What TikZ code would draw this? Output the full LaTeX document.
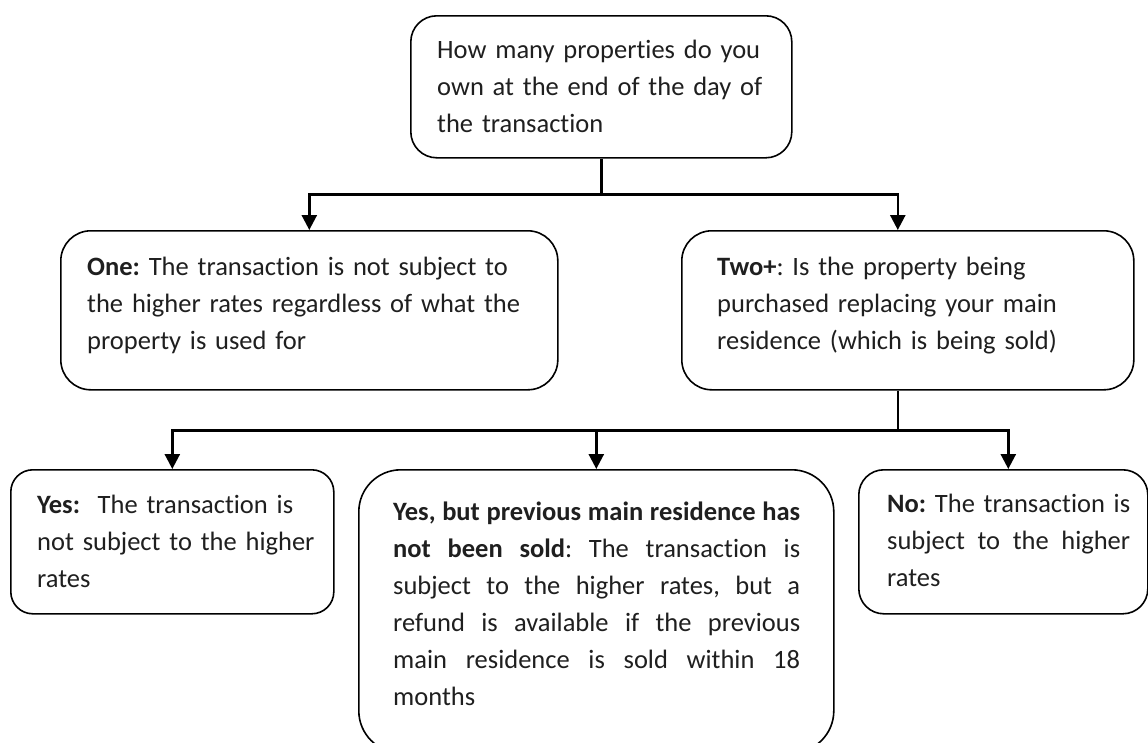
\documentclass[tikz,border=0pt]{standalone}
\usepackage{fontspec}
\setmainfont[Ligatures=NoCommon]{Carlito}
\usetikzlibrary{arrows.meta}
\frenchspacing
\begin{document}
\begin{tikzpicture}[x=1pt,y=-1pt,
  box/.style={draw=black,line width=1.6pt,fill=white,inner sep=0pt,anchor=north west},
  txt/.style={anchor=base west,inner sep=0pt,font=\fontsize{26.5}{37}\selectfont,text=black!88},
  conn/.style={line width=2.6pt,-{Triangle[width=15pt,length=15pt]}},
  line/.style={line width=2.6pt}]
\useasboundingbox (0,0) rectangle (1148,742);
% boxes
\node[box,rounded corners=26pt,minimum width=381pt,minimum height=142pt] (top) at (410,15) {};
\node[box,rounded corners=30pt,minimum width=497pt,minimum height=159pt] (one) at (60,230) {};
\node[box,rounded corners=30pt,minimum width=452pt,minimum height=159pt] (two) at (681,230) {};
\node[box,rounded corners=22pt,minimum width=323pt,minimum height=144pt] (yes) at (10,469) {};
\node[box,rounded corners=42pt,minimum width=475pt,minimum height=283pt] (mid) at (358,469) {};
\node[box,rounded corners=25pt,minimum width=289pt,minimum height=144pt] (no) at (858,469) {};
% texts
\node[txt,text width=360pt,align=left] (ttop) at (437,58) {How many properties do you\\own at the end of the day of\\the transaction};
\node[txt,text width=460pt,align=left] (tone) at (87,275) {\textbf{One:} The transaction is not subject to\\the higher rates regardless of what the\\property is used for};
\node[txt,text width=410pt,align=left] (ttwo) at (717,275) {\textbf{Two+}: Is the property being\\purchased replacing your main\\residence (which is being sold)};
\node[txt,text width=300pt,align=left] (tyes) at (37,513) {\textbf{Yes:}\ \ The transaction is\\not subject to the higher\\rates};
\node[txt,text width=407pt,align=justify] (tmid) at (393,520) {\textbf{Yes, but previous main residence has}\linebreak \textbf{not been sold}: The transaction is\linebreak subject to the higher rates, but a\linebreak refund is available if the previous\linebreak main residence is sold within 18\linebreak months};
\node[txt,text width=243pt,align=justify] (tno) at (887,512) {\textbf{No:} The transaction is\linebreak subject to the higher\linebreak rates};
% connectors
\draw[line] (top.south) -- ++(0,36) coordinate (j1);
\draw[conn] (j1) -| (one.north);
\draw[conn] (j1) -| ([xshift=-10pt]two.north);
\draw[line] ([xshift=-10pt]two.south) -- ++(0,40) coordinate (j2);
\draw[conn] (j2) -| (yes.north);
\draw[conn] (j2) -| (mid.north);
\draw[conn] (j2) -| ([xshift=5pt]no.north);
\end{tikzpicture}
\end{document}
